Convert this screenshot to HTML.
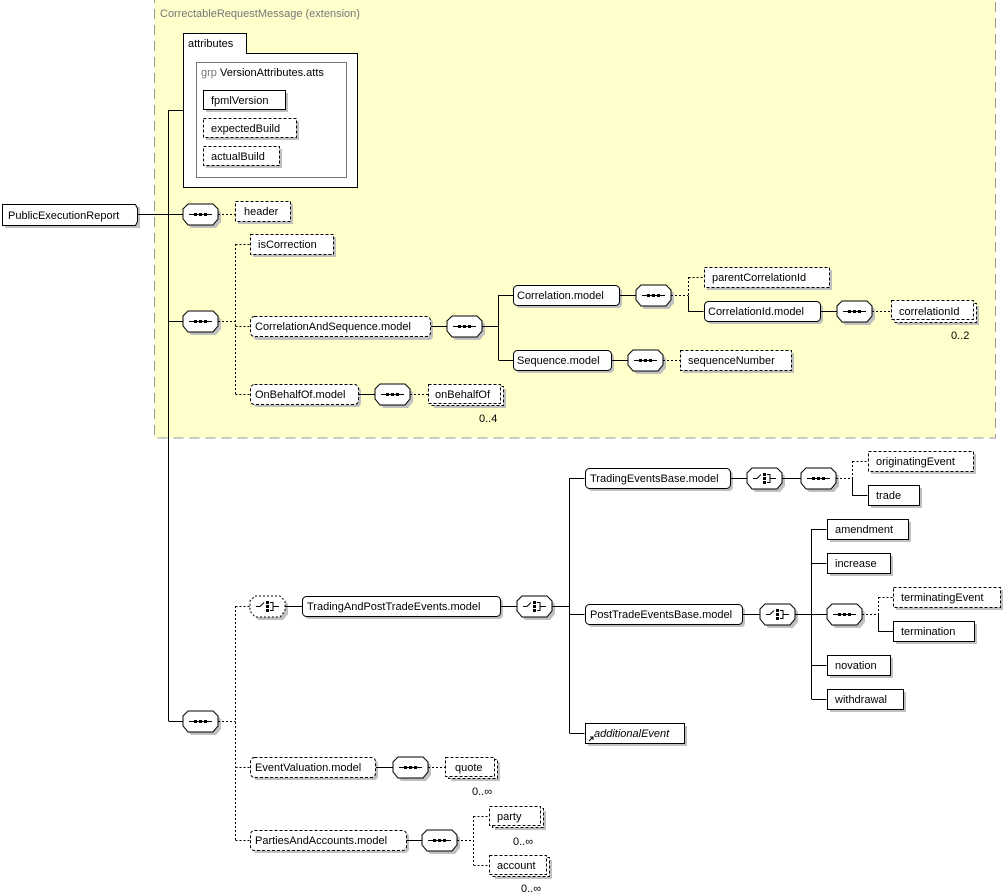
<!DOCTYPE html>
<html><head><meta charset="utf-8"><style>
html,body{margin:0;padding:0;background:#fff}
svg{display:block}
text{font-family:"Liberation Sans","DejaVu Sans",sans-serif;font-size:11px;fill:#000}
.ln{stroke:#000;stroke-width:1;fill:none}
.dl{stroke:#000;stroke-width:1;fill:none;stroke-dasharray:2,2}
.sh{fill:#c0c0c0}
.b{fill:#fff;stroke:#000;stroke-width:1}
.bd{fill:#fff;stroke:#000;stroke-width:1;stroke-dasharray:3,2}
</style></head><body>
<svg width="1008" height="894" viewBox="0 0 1008 894" xmlns="http://www.w3.org/2000/svg">
<defs>
<g id="oct"><polygon class="sh" points="8,3 33,3 38,8 38,18 33,24 8,24 3,18 3,8"/><polygon class="b" points="5,0 30,0 35,5 35,15 30,21 5,21 0,15 0,5"/></g>
<g id="seq"><use href="#oct"/><line x1="6" y1="10.5" x2="29" y2="10.5" stroke="#000"/><rect x="11" y="9" width="3" height="3"/><rect x="16" y="9" width="3" height="3"/><rect x="21" y="9" width="3" height="3"/></g>
<g id="cho"><use href="#oct"/><path d="M6,10.5h4l4,-4" stroke="#000" fill="none"/><rect x="16" y="5" width="3" height="3"/><rect x="16" y="9" width="3" height="3"/><rect x="16" y="13" width="3" height="3"/><path d="M20,6.5h3v8h-3M23,10.5h6" stroke="#000" fill="none"/></g>
</defs>

<!-- yellow extension -->
<rect x="154.5" y="-5" width="841" height="443" fill="#ffffcc" stroke="#999" stroke-dasharray="10,6"/>
<text x="160" y="17" style="fill:#777">CorrectableRequestMessage (extension)</text>

<!-- attributes -->
<rect x="183.5" y="33.5" width="63" height="20" class="b"/>
<rect x="183.5" y="53.5" width="174" height="134" class="b"/>
<rect x="184" y="52" width="62" height="3" fill="#fff"/>
<text x="188" y="47">attributes</text>
<rect x="196.5" y="62.5" width="150" height="115" fill="#fff" stroke="#777"/>
<text x="201" y="76"><tspan style="fill:#777">grp </tspan>VersionAttributes.atts</text>
<rect x="206" y="93" width="82" height="19" class="sh"/><rect x="203.5" y="90.5" width="82" height="19" class="b"/><text x="211" y="104">fpmlVersion</text>
<rect x="206" y="121" width="93" height="19" class="sh"/><rect x="203.5" y="118.5" width="93" height="19" class="bd"/><text x="211" y="132">expectedBuild</text>
<rect x="206" y="149" width="76" height="19" class="sh"/><rect x="203.5" y="146.5" width="76" height="19" class="bd"/><text x="211" y="160">actualBuild</text>

<!-- root -->
<rect x="5" y="207" width="135" height="21" class="sh"/>
<path class="b" d="M2.5,204.5h133l2,4v13l-2,4h-133z"/>
<text x="8" y="219">PublicExecutionReport</text>
<path class="ln" d="M138,214.5h30.5M168.5,110v611M168.5,110.5h15M168.5,214.5h15M168.5,321.5h15M168.5,721.5h15"/>

<!-- header -->
<use href="#seq" x="183" y="204"/>
<path class="dl" d="M218,214.5h17"/>
<rect x="238" y="204" width="55" height="20" class="sh"/><rect x="235.5" y="201.5" width="55" height="20" class="bd"/><text x="244" y="215">header</text>

<!-- second seq -->
<use href="#seq" x="183" y="311"/>
<path class="dl" d="M218,321.5h17.5M235.5,244v150M235.5,244.5h15M235.5,326.5h15M235.5,394.5h15"/>
<rect x="253" y="237" width="83" height="20" class="sh"/><rect x="250.5" y="234.5" width="83" height="20" class="bd"/><text x="258" y="248">isCorrection</text>
<rect x="253" y="319" width="180" height="21" rx="4" class="sh"/><rect x="250.5" y="316.5" width="180" height="20" rx="4" class="bd"/><text x="255" y="330">CorrelationAndSequence.model</text>
<path class="ln" d="M431,326.5h16"/>
<use href="#seq" x="447" y="316"/>
<path class="ln" d="M482,326.5h16.5M498.5,295v65M498.5,295.5h15M498.5,360.5h15"/>
<rect x="516" y="288" width="106" height="20" rx="4" class="sh"/><rect x="513.5" y="285.5" width="106" height="20" rx="4" class="b"/><text x="517" y="299">Correlation.model</text>
<path class="ln" d="M620,295.5h16"/>
<use href="#seq" x="636" y="285"/>
<path class="dl" d="M671,295.5h17.5M688.5,277v34M688.5,277.5h15"/><path class="ln" d="M688.5,296v15.5h15"/>
<rect x="707" y="270" width="125" height="20" class="sh"/><rect x="704.5" y="267.5" width="125" height="20" class="bd"/><text x="712" y="281">parentCorrelationId</text>
<rect x="707" y="304" width="116" height="20" rx="4" class="sh"/><rect x="704.5" y="301.5" width="116" height="20" rx="4" class="b"/><text x="708" y="315">CorrelationId.model</text>
<path class="ln" d="M821,311.5h16"/>
<use href="#seq" x="837" y="301"/>
<path class="dl" d="M872,311.5h19"/>
<rect x="897" y="306" width="82" height="19" class="sh"/><rect x="894.5" y="303.5" width="82" height="19" class="bd"/><rect x="891.5" y="300.5" width="82" height="19" class="bd"/><text x="899" y="315">correlationId</text>
<text x="951" y="339">0..2</text>
<rect x="516" y="353" width="98" height="20" rx="4" class="sh"/><rect x="513.5" y="350.5" width="98" height="20" rx="4" class="b"/><text x="517" y="364">Sequence.model</text>
<path class="ln" d="M612,360.5h16"/>
<use href="#seq" x="628" y="350"/>
<path class="dl" d="M663,360.5h17"/>
<rect x="683" y="353" width="111" height="20" class="sh"/><rect x="680.5" y="350.5" width="111" height="20" class="bd"/><text x="688" y="364">sequenceNumber</text>
<rect x="253" y="387" width="108" height="20" rx="4" class="sh"/><rect x="250.5" y="384.5" width="108" height="20" rx="4" class="bd"/><text x="255" y="398">OnBehalfOf.model</text>
<path class="ln" d="M359,394.5h16"/>
<use href="#seq" x="375" y="384"/>
<path class="dl" d="M410,394.5h18"/>
<rect x="434" y="389" width="72" height="19" class="sh"/><rect x="431.5" y="386.5" width="72" height="19" class="bd"/><rect x="428.5" y="384.5" width="72" height="19" class="bd"/><text x="435" y="398">onBehalfOf</text>
<text x="479" y="422">0..4</text>

<!-- bottom seq -->
<use href="#seq" x="183" y="711"/>
<path class="dl" d="M218,721.5h17.5M235.5,606v234M235.5,606.5h15M235.5,767.5h15M235.5,840.5h15"/>
<g><polygon class="sh" points="258,599 283,599 288,604 288,614 283,620 258,620 253,614 253,604"/><polygon fill="#fff" stroke="#000" stroke-dasharray="2,2" points="255,596 280,596 285,601 285,611 280,617 255,617 250,611 250,601"/><path d="M256,606.5h4l4,-4" stroke="#000" fill="none"/><rect x="266" y="601" width="3" height="3"/><rect x="266" y="605" width="3" height="3"/><rect x="266" y="609" width="3" height="3"/><path d="M270,602.5h3v8h-3M273,606.5h6" stroke="#000" fill="none"/></g>
<path class="ln" d="M285,606.5h17"/>
<rect x="305" y="599" width="198" height="20" rx="4" class="sh"/><rect x="302.5" y="596.5" width="198" height="20" rx="4" class="b"/><text x="307" y="610">TradingAndPostTradeEvents.model</text>
<path class="ln" d="M501,606.5h16"/>
<use href="#cho" x="517" y="596"/>
<path class="ln" d="M552,606.5h17.5M569.5,478v255M569.5,478.5h15M569.5,614.5h15M569.5,733.5h15"/>
<rect x="588" y="471" width="145" height="20" rx="4" class="sh"/><rect x="585.5" y="468.5" width="145" height="20" rx="4" class="b"/><text x="590" y="482">TradingEventsBase.model</text>
<path class="ln" d="M731,478.5h16"/>
<use href="#cho" x="747" y="468"/>
<path class="ln" d="M782,478.5h19"/>
<use href="#seq" x="801" y="468"/>
<path class="dl" d="M836,478.5h16.5M852.5,461v17M852.5,461.5h15"/><path class="ln" d="M852.5,478v17.5h15"/>
<rect x="871" y="454" width="105" height="20" class="sh"/><rect x="868.5" y="451.5" width="105" height="20" class="bd"/><text x="876" y="465">originatingEvent</text>
<rect x="871" y="488" width="51" height="20" class="sh"/><rect x="868.5" y="485.5" width="51" height="20" class="b"/><text x="876" y="499">trade</text>
<rect x="588" y="607" width="157" height="20" rx="4" class="sh"/><rect x="585.5" y="604.5" width="157" height="20" rx="4" class="b"/><text x="590" y="618">PostTradeEventsBase.model</text>
<path class="ln" d="M743,614.5h17"/>
<use href="#cho" x="760" y="604"/>
<path class="ln" d="M795,614.5h16.5M811.5,529v170M811.5,529.5h15M811.5,563.5h15M811.5,614.5h15M811.5,665.5h15M811.5,699.5h15"/>
<rect x="830" y="522" width="81" height="20" class="sh"/><rect x="827.5" y="519.5" width="81" height="20" class="b"/><text x="835" y="533">amendment</text>
<rect x="830" y="556" width="63" height="20" class="sh"/><rect x="827.5" y="553.5" width="63" height="20" class="b"/><text x="835" y="567">increase</text>
<use href="#seq" x="827" y="604"/>
<path class="dl" d="M862,614.5h16.5M878.5,597v17M878.5,597.5h15"/><path class="ln" d="M878.5,614v17.5h15"/>
<rect x="896" y="590" width="107" height="20" class="sh"/><rect x="893.5" y="587.5" width="107" height="20" class="bd"/><text x="901" y="601">terminatingEvent</text>
<rect x="896" y="624" width="81" height="20" class="sh"/><rect x="893.5" y="621.5" width="81" height="20" class="b"/><text x="901" y="635">termination</text>
<rect x="830" y="658" width="63" height="20" class="sh"/><rect x="827.5" y="655.5" width="63" height="20" class="b"/><text x="835" y="669">novation</text>
<rect x="830" y="692" width="76" height="20" class="sh"/><rect x="827.5" y="689.5" width="76" height="20" class="b"/><text x="835" y="703">withdrawal</text>
<rect x="588" y="726" width="99" height="20" class="sh"/><rect x="585.5" y="723.5" width="99" height="20" class="b"/><text x="594" y="737" font-style="italic">additionalEvent</text>
<path d="M589,741l4,-4M590,737h3v3" stroke="#000" fill="none"/>
<rect x="253" y="760" width="125" height="20" rx="4" class="sh"/><rect x="250.5" y="757.5" width="125" height="20" rx="4" class="bd"/><text x="255" y="771">EventValuation.model</text>
<path class="ln" d="M376,767.5h17"/>
<use href="#seq" x="393" y="757"/>
<path class="dl" d="M428,767.5h17"/>
<rect x="451" y="762" width="49" height="19" class="sh"/><rect x="448.5" y="759.5" width="49" height="19" class="bd"/><rect x="445.5" y="757.5" width="49" height="19" class="bd"/><text x="455" y="771">quote</text>
<text x="472" y="795">0..∞</text>
<rect x="253" y="833" width="156" height="20" rx="4" class="sh"/><rect x="250.5" y="830.5" width="156" height="20" rx="4" class="bd"/><text x="255" y="844">PartiesAndAccounts.model</text>
<path class="ln" d="M407,840.5h15"/>
<use href="#seq" x="422" y="830"/>
<path class="dl" d="M457,840.5h16.5M473.5,816v49M473.5,816.5h15M473.5,865.5h15"/>
<rect x="495" y="811" width="51" height="19" class="sh"/><rect x="492.5" y="808.5" width="51" height="19" class="bd"/><rect x="489.5" y="806.5" width="51" height="19" class="bd"/><text x="497" y="820">party</text>
<text x="513" y="845">0..∞</text>
<rect x="495" y="860" width="57" height="19" class="sh"/><rect x="492.5" y="857.5" width="57" height="19" class="bd"/><rect x="489.5" y="855.5" width="57" height="19" class="bd"/><text x="497" y="869">account</text>
<text x="521" y="892">0..∞</text>
</svg>
</body></html>
